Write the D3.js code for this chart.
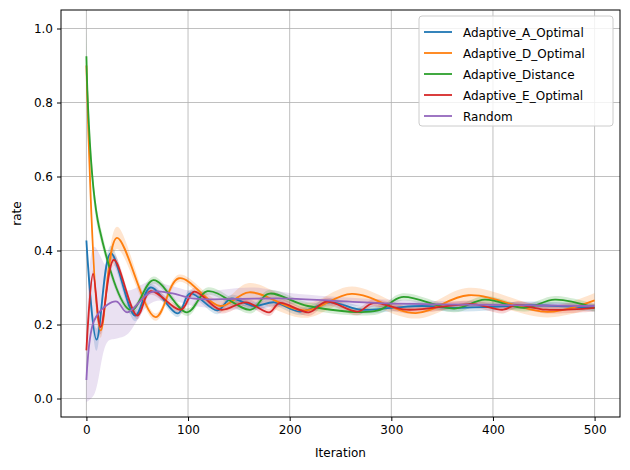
<!DOCTYPE html>
<html><head><meta charset="utf-8">
<script src="https://cdn.jsdelivr.net/npm/d3@7"></script>
<style>body{margin:0;background:#fff}text{font-family:"DejaVu Sans",sans-serif}</style>
</head><body><svg id="c" width="630" height="470"></svg>
<script>
// [iteration, rate, half-width of band]
var seriesNames = ['Adaptive_A_Optimal', 'Adaptive_D_Optimal', 'Adaptive_Distance', 'Adaptive_E_Optimal', 'Random'];
var colors = ['#1f77b4', '#ff7f0e', '#2ca02c', '#d62728', '#9467bd'];
var blue = [[0,0.427,0.01],[10,0.159,0.03],[24,0.393,0.02],[48,0.224,0.015],[63,0.30,0.01],[90,0.23,0.01],[102,0.284,0.01],[129,0.238,0.01],[142,0.27,0.01],[165,0.25,0.01],[185,0.26,0.01],[210,0.235,0.01],[240,0.26,0.01],[270,0.24,0.01],[300,0.245,0.01],[330,0.25,0.01],[360,0.245,0.01],[400,0.248,0.01],[440,0.252,0.01],[500,0.245,0.01]];
var orange = [[0,0.90,0.01],[14,0.184,0.02],[30,0.434,0.03],[68,0.22,0.01],[91,0.325,0.01],[132,0.25,0.015],[160,0.287,0.025],[215,0.238,0.02],[261,0.283,0.02],[324,0.231,0.015],[376,0.279,0.02],[454,0.234,0.015],[500,0.265,0.02]];
var green = [[0,0.925,0.07],[12.5,0.463,0.02],[44,0.238,0.01],[66,0.32,0.01],[99,0.233,0.01],[119,0.29,0.01],[162,0.24,0.01],[179,0.283,0.01],[218,0.25,0.01],[287,0.238,0.01],[310,0.274,0.01],[362,0.243,0.01],[392,0.267,0.01],[431,0.245,0.01],[461,0.267,0.01],[500,0.245,0.01]];
var red = [[0,0.13,0.01],[6.6,0.337,0.01],[14,0.193,0.02],[27,0.375,0.015],[50,0.224,0.01],[63,0.29,0.01],[93,0.24,0.01],[106,0.289,0.01],[132,0.24,0.01],[157,0.26,0.01],[180,0.233,0.01],[190,0.258,0.01],[219,0.233,0.01],[236,0.262,0.01],[267,0.235,0.01],[282,0.258,0.01],[315,0.24,0.01],[380,0.255,0.01],[410,0.24,0.01],[423,0.253,0.01],[452,0.24,0.01],[500,0.245,0.01]];
var purple = [[0,0.05,0.06],[7.5,0.21,0.2],[21,0.254,0.1],[30,0.262,0.1],[40,0.233,0.06],[63,0.287,0.03],[83,0.285,0.02],[106,0.27,0.02],[165,0.27,0.03],[200,0.27,0.015],[288,0.258,0.01],[400,0.253,0.008],[500,0.25,0.008]];
var allSeries = [blue, orange, green, red, purple];
var xTicks = [0, 100, 200, 300, 400, 500];
var yTicks = [0.0, 0.2, 0.4, 0.6, 0.8, 1.0];

var svg = d3.select('#c');
var L = 61, R = 620, T = 10, B = 417;
var x = d3.scaleLinear().domain([-25, 525]).range([L, R]);
var y = d3.scaleLinear().domain([-0.05, 1.05]).range([B, T]);

// grid
svg.append('g').selectAll('line').data(xTicks).join('line')
    .attr('x1', d => x(d)).attr('x2', d => x(d)).attr('y1', T).attr('y2', B)
    .attr('stroke', '#b0b0b0').attr('stroke-width', 0.8);
svg.append('g').selectAll('line').data(yTicks).join('line')
    .attr('y1', d => y(d)).attr('y2', d => y(d)).attr('x1', L).attr('x2', R)
    .attr('stroke', '#b0b0b0').attr('stroke-width', 0.8);

var curve = d3.curveCatmullRom.alpha(0.5);
var area = d3.area().curve(curve).x(d => x(d[0])).y0(d => y(d[1] - d[2])).y1(d => y(d[1] + d[2]));
var line = d3.line().curve(curve).x(d => x(d[0])).y(d => y(d[1]));

allSeries.forEach(function(s, i) {
    svg.append('path').attr('d', area(s)).attr('fill', colors[i]).attr('opacity', 0.2);
});
allSeries.forEach(function(s, i) {
    svg.append('path').attr('d', line(s)).attr('fill', 'none')
        .attr('stroke', colors[i]).attr('stroke-width', 1.8);
});

// axes
var xa = svg.append('g').attr('transform', 'translate(0,' + B + ')')
    .call(d3.axisBottom(x).tickValues(xTicks).tickSize(4).tickPadding(4));
var ya = svg.append('g').attr('transform', 'translate(' + L + ',0)')
    .call(d3.axisLeft(y).tickValues(yTicks).tickFormat(d3.format('.1f')).tickSize(4).tickPadding(4));
[xa, ya].forEach(function(a) {
    a.select('.domain').remove();
    a.selectAll('text').attr('font-size', 12).attr('fill', '#000').attr('font-family', 'DejaVu Sans');
});
svg.append('rect').attr('x', L).attr('y', T).attr('width', R - L).attr('height', B - T)
    .attr('fill', 'none').attr('stroke', '#000').attr('stroke-width', 1);

svg.append('text').attr('x', (L + R) / 2).attr('y', 457).attr('text-anchor', 'middle')
    .attr('font-size', 12).text('Iteration');
svg.append('text').attr('transform', 'translate(21,' + (T + B) / 2 + ') rotate(-90)')
    .attr('text-anchor', 'middle').attr('font-size', 12).text('rate');

// legend
var lg = svg.append('g');
lg.append('rect').attr('x', 419).attr('y', 16).attr('width', 194).attr('height', 110).attr('rx', 3)
    .attr('fill', '#fff').attr('fill-opacity', 0.8).attr('stroke', '#ccc');
seriesNames.forEach(function(n, i) {
    var yy = 32 + i * 21;
    lg.append('line').attr('x1', 424).attr('x2', 452).attr('y1', yy).attr('y2', yy)
        .attr('stroke', colors[i]).attr('stroke-width', 1.8);
    lg.append('text').attr('x', 463).attr('y', yy + 4.5).attr('font-size', 12).text(n);
});
</script></body></html>
